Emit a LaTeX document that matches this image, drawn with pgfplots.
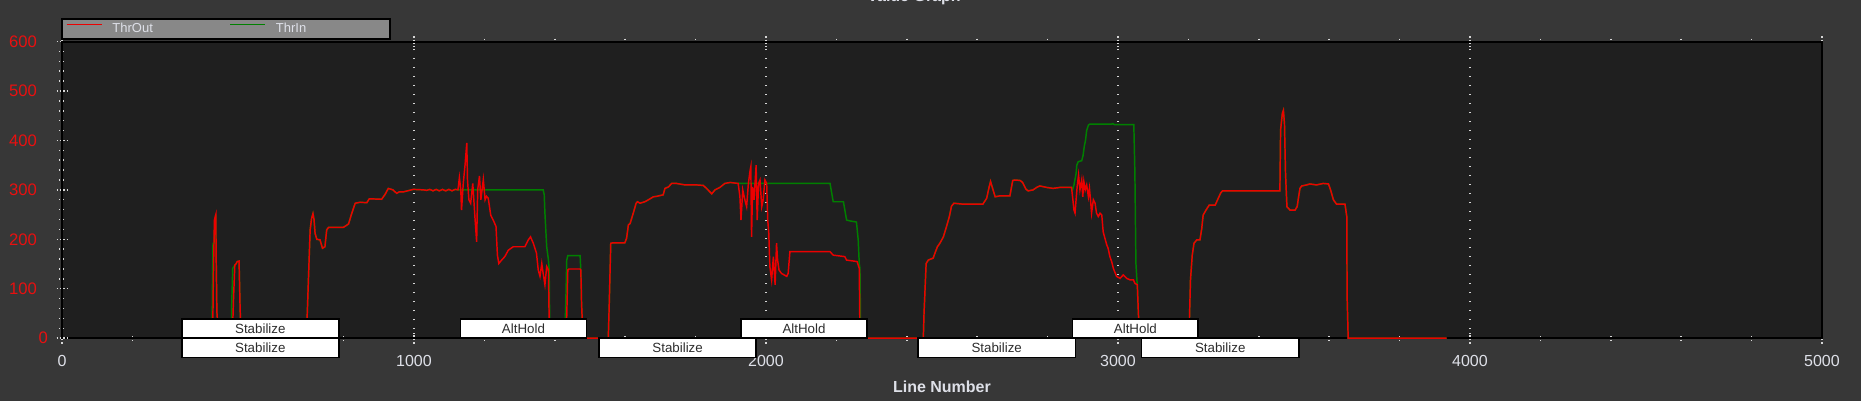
\documentclass[border=0pt]{standalone}
\usepackage{pgfplots}
\pgfplotsset{compat=1.18}
\usepackage{fontspec}
\setmainfont{Liberation Sans}

\definecolor{bgc}{RGB}{55,55,55}
\definecolor{plotbg}{RGB}{31,31,31}
\definecolor{throut}{RGB}{235,0,0}
\definecolor{thrin}{RGB}{0,128,0}
\definecolor{lgnd}{RGB}{136,136,136}
\definecolor{txt}{RGB}{222,224,232}
\definecolor{tickred}{RGB}{232,16,16}
\definecolor{modetxt}{RGB}{45,45,45}
\definecolor{dots}{RGB}{215,215,215}

\tikzset{mode/.style={draw=black, line width=1.1pt, fill=white, inner sep=0pt,
    minimum height=14.3pt, text=modetxt, font=\fontsize{10}{12}\selectfont}}

\begin{document}
\begin{tikzpicture}[x=1pt,y=1pt]
% whole window background
\fill[bgc] (-46.5,-47.1) rectangle (1349.25,253.65);
\begin{axis}[
    at={(0,0)}, anchor=south west,
    scale only axis, width=1320pt, height=222.5pt,
    xmin=0, xmax=5000, ymin=0, ymax=600,
    enlargelimits=false,
    clip mode=individual,
    axis background/.style={fill=plotbg},
    axis line style={black, line width=1.5pt},
    % ticks
    xtick={0,1000,...,5000},
    ytick={0,100,...,600},
    yticklabels={,100,200,300,400,500,600},
    extra y ticks={0},
    extra y tick labels={0},
    extra y tick style={yticklabel style={xshift=8.25pt}},
    minor x tick num=4, minor y tick num=4,
    xtick pos=both, ytick pos=left,
    tick align=center,
    major tick length=8pt, minor tick length=4.5pt,
    tick style={dots, line width=1.1pt, dash pattern=on 1.1pt off 1.4pt},
    /pgf/number format/assume math mode=true,
    /pgf/number format/1000 sep={},
    xticklabel style={text=txt, font=\fontsize{12}{14}\selectfont, anchor=center, yshift=-13pt},
    yticklabel style={text=tickred, font=\fontsize{12.5}{14}\selectfont, anchor=east, inner sep=0pt, xshift=-14.6pt},
    % grid
    xmajorgrids=true,
    major x grid style={dots, line width=1.1pt, dash pattern=on 1.1pt off 5.65pt},
    % label
    xlabel={Line Number},
    xlabel style={text=txt, font=\bfseries\fontsize{12}{14}\selectfont,
        at={(axis description cs:0.5,0)}, anchor=center, yshift=-36.4pt},
    % legend
    legend columns=2,
    legend image code/.code={\draw[#1] (0pt,3.2pt) -- (26.25pt,3.2pt);},
    legend style={at={(axis description cs:0,1)}, anchor=south west,
        xshift=-0.75pt, yshift=1.15pt,
        draw=black, line width=1.5pt, fill=lgnd,
        text=txt, font=\fontsize{9.75}{10}\selectfont,
        inner xsep=3pt, inner ysep=3pt,
        nodes={inner sep=0pt, text height=7pt, text depth=2pt},
        /tikz/every odd column/.style={column sep=7.5pt},
        /tikz/every even column/.style={column sep=0pt}},
    legend cell align=left,
]
\addlegendimage{throut, line width=1.1pt}
\addlegendentry{\makebox[87.75pt][l]{ThrOut}}
\addlegendimage{thrin, line width=1.1pt}
\addlegendentry{\makebox[82.5pt][l]{ThrIn}}

% ThrIn (drawn first, ThrOut lies over it where they agree)
\addplot[thrin, line width=1.1pt, no markers, forget plot] coordinates {
(420,0)(426,0)(427,80)(429,192)(432,192)(434,240)(436,245)(437,250)(438,162)(440,54)(445,0)
(481,0)(482,64)(485,141)(491,148)(494,150)(498,155)(503,156)(506,60)(509,0)
(694,0)(697,54)(702,158)(705,219)(709,242)(713,252)(716,240)(719,212)(724,200)(733,199)(740,182)(747,185)(752,219)(757,224)(799,224)(814,231)(823,252)(833,273)(847,275)(866,274)(873,282)(908,281)(918,291)(927,303)(940,300)(951,293)(958,296)(970,296)(998,301)(1027,300)(1036,299)(1045,301)(1054,298)(1063,301)(1072,298)(1081,301)(1090,298)(1099,301)(1108,298)(1117,301)(1125,300)
(1129,300)(1367,300)(1370,290)(1372,253)(1377,185)(1382,158)(1384,138)(1386,0)
(1428,0)(1431,64)(1434,158)(1437,167)(1472,167)(1475,120)(1476,71)(1478,37)(1481,0)
(1552,0)(1555,77)(1559,192)(1566,193)(1599,193)(1604,202)(1609,229)(1614,232)(1623,253)(1631,273)(1635,276)(1642,273)(1656,276)(1666,280)(1680,286)(1690,287)(1708,290)(1713,303)(1723,306)(1732,313)(1746,313)(1770,310)(1803,310)(1822,309)(1831,303)(1846,292)(1855,300)(1869,305)(1883,313)(1898,315)(1921,313)
(2182,313)(2191,276)(2220,276)(2229,239)(2240,237)(2257,235)(2262,199)(2265,151)(2267,141)(2269,0)
(2447,0)(2449,50)(2455,151)(2461,158)(2475,162)(2480,172)(2487,185)(2494,192)(2504,205)(2513,226)(2521,246)(2527,267)(2534,273)(2561,271)(2616,271)(2627,283)(2634,306)(2638,317)(2643,305)(2651,286)(2665,288)(2693,288)(2701,319)(2707,320)(2722,319)(2729,315)(2739,301)(2745,298)(2759,300)(2769,305)(2778,308)(2797,305)(2816,303)(2835,305)(2854,305)(2868,305)
(2871,300)(2875,310)(2881,333)(2883,350)(2887,357)(2892,358)(2897,359)(2901,370)(2904,387)(2908,401)(2911,420)(2916,431)(2920,433)(2982,433)(2985,434)(2990,432)(3045,432)(3048,337)(3051,151)(3055,104)(3058,50)(3062,0)
(3200,0)(3203,37)(3206,118)(3211,168)(3216,192)(3224,199)(3233,199)(3238,222)(3242,249)(3250,259)(3259,269)(3276,269)(3283,280)(3292,294)(3297,298)(3460,298)(3462,421)(3467,455)(3470,461)(3473,434)(3476,333)(3480,266)(3489,259)(3503,259)(3509,266)(3513,285)(3517,303)(3522,308)(3536,310)(3545,312)(3564,310)(3583,313)(3598,312)(3604,300)(3612,280)(3621,271)(3645,271)(3650,246)(3651,84)(3654,0)(3934,0)
};

% ThrOut
\addplot[throut, line width=1.1pt, no markers, forget plot] coordinates {
(420,0)(428,0)(430,118)(433,239)(435,245)(437,250)(438,162)(440,54)(445,0)
(484,0)(487,74)(491,148)(494,150)(498,155)(503,156)(506,60)(509,0)
(694,0)(697,54)(702,158)(705,219)(709,242)(713,252)(716,240)(719,212)(724,200)(733,199)(740,182)(747,185)(752,219)(757,224)(799,224)(814,231)(823,252)(833,273)(847,275)(866,274)(873,282)(908,281)(918,291)(927,303)(940,300)(951,293)(958,296)(970,296)(998,301)(1027,300)(1036,299)(1045,301)(1054,298)(1063,301)(1072,298)(1081,301)(1090,298)(1099,301)(1108,298)(1117,301)(1125,300)
(1129,325)(1133,300)(1135,259)(1140,313)(1145,350)(1150,395)(1152,320)(1156,280)(1161,273)(1167,313)(1170,280)(1173,246)(1178,195)(1181,300)(1186,328)(1190,280)(1197,321)(1202,280)(1206,287)(1211,283)(1218,249)(1225,239)(1233,226)(1237,168)(1241,151)(1249,158)(1258,165)(1268,178)(1282,185)(1300,185)(1315,185)(1325,199)(1331,205)(1339,192)(1348,172)(1353,138)(1358,125)(1363,151)(1367,131)(1372,108)(1377,145)(1382,138)(1384,37)(1386,0)
(1430,0)(1434,44)(1437,138)(1440,140)(1472,140)(1474,138)(1476,71)(1478,37)(1481,0)
(1552,0)(1555,77)(1559,192)(1566,193)(1599,193)(1604,202)(1609,229)(1614,232)(1623,253)(1631,273)(1635,276)(1642,273)(1656,276)(1666,280)(1680,286)(1690,287)(1708,290)(1713,303)(1723,306)(1732,313)(1746,313)(1770,310)(1803,310)(1822,309)(1831,303)(1846,292)(1855,300)(1869,305)(1883,313)(1898,315)(1921,313)
(1926,286)(1929,239)(1934,300)(1940,280)(1945,266)(1950,313)(1955,340)(1957,347)(1959,205)(1962,306)(1966,280)(1972,350)(1975,239)(1979,313)(1983,320)(1988,266)(1992,280)(1997,320)(2002,313)(2005,239)(2008,212)(2011,145)(2016,118)(2021,165)(2026,108)(2030,192)(2033,158)(2037,138)(2044,131)(2059,125)(2063,131)(2068,175)(2182,175)(2191,168)(2224,165)(2229,158)(2259,155)(2265,141)(2267,0)
(2447,0)(2449,50)(2455,151)(2461,158)(2475,162)(2480,172)(2487,185)(2494,192)(2504,205)(2513,226)(2521,246)(2527,267)(2534,273)(2561,271)(2616,271)(2627,283)(2634,306)(2638,317)(2643,305)(2651,286)(2665,288)(2693,288)(2701,319)(2707,320)(2722,319)(2729,315)(2739,301)(2745,298)(2759,300)(2769,305)(2778,308)(2797,305)(2816,303)(2835,305)(2854,305)(2868,305)
(2871,286)(2875,259)(2878,253)(2881,280)(2884,306)(2888,330)(2892,300)(2897,320)(2900,286)(2903,317)(2907,300)(2911,310)(2916,286)(2919,303)(2922,280)(2925,253)(2930,280)(2935,273)(2939,253)(2944,246)(2949,253)(2954,249)(2958,215)(2963,202)(2968,189)(2972,182)(2977,165)(2982,155)(2987,141)(2996,125)(3006,121)(3015,128)(3025,121)(3034,118)(3044,118)(3048,111)(3055,108)(3058,50)(3062,0)
(3200,0)(3203,37)(3206,118)(3211,168)(3216,192)(3224,199)(3233,199)(3238,222)(3242,249)(3250,259)(3259,269)(3276,269)(3283,280)(3292,294)(3297,298)(3460,298)(3462,421)(3467,455)(3470,461)(3473,434)(3476,333)(3480,266)(3489,259)(3503,259)(3509,266)(3513,285)(3517,303)(3522,308)(3536,310)(3545,312)(3564,310)(3583,313)(3598,312)(3604,300)(3612,280)(3621,271)(3645,271)(3650,246)(3651,84)(3654,0)(3934,0)
};

% flight mode labels
\node[mode, minimum width=117.8pt, yshift=7.15pt]  at (axis cs:563.5,0)  {Stabilize};
\node[mode, minimum width=94.2pt,  yshift=7.15pt]  at (axis cs:1311,0)   {AltHold};
\node[mode, minimum width=94.2pt,  yshift=7.15pt]  at (axis cs:2108,0)   {AltHold};
\node[mode, minimum width=94.2pt,  yshift=7.15pt]  at (axis cs:3049.5,0) {AltHold};
\node[mode, minimum width=117.8pt, yshift=-7.15pt] at (axis cs:563.5,0)  {Stabilize};
\node[mode, minimum width=117.8pt, yshift=-7.15pt] at (axis cs:1749,0)   {Stabilize};
\node[mode, minimum width=117.8pt, yshift=-7.15pt] at (axis cs:2655.5,0) {Stabilize};
\node[mode, minimum width=117.8pt, yshift=-7.15pt] at (axis cs:3290.5,0) {Stabilize};
\end{axis}
% title, cut off by the window edge as in the original
\node[anchor=base, text=txt, font=\bfseries\fontsize{12}{14}\selectfont] at (639,252.5) {Value Graph};
\pgfresetboundingbox
\path[use as bounding box] (-46.5,-47.1) rectangle (1349.25,253.65);
\end{tikzpicture}
\end{document}
